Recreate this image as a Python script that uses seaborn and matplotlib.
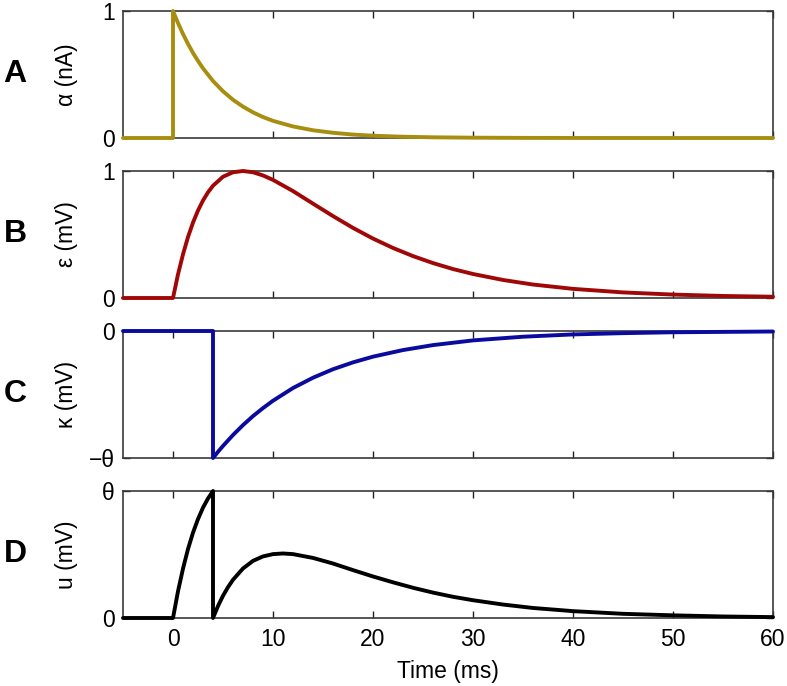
import matplotlib
matplotlib.use("Agg")
import matplotlib.pyplot as plt
import seaborn as sns

# Panel A: input current alpha (nA), step at t=0 then decay
t_alpha = [-5, 0, 0, 0.5, 1, 1.5, 2, 2.5, 3, 4, 5, 6, 7, 8, 9, 10, 12, 14, 16, 18,
           20, 23, 26, 30, 35, 40, 50, 60]
alpha = [0, 0, 1, 0.905, 0.819, 0.741, 0.670, 0.607, 0.549, 0.449, 0.368, 0.301,
         0.247, 0.202, 0.165, 0.135, 0.091, 0.061, 0.041, 0.027, 0.018, 0.010,
         0.0055, 0.0025, 0.0009, 0.0003, 0, 0]

# Panel B: PSP kernel epsilon (mV)
t_eps = [-5, 0, 0.5, 1, 1.5, 2, 2.5, 3, 3.5, 4, 5, 6, 7, 8, 9, 10, 12, 14, 16, 18,
         20, 22, 24, 26, 28, 30, 33, 36, 40, 45, 50, 55, 60]
eps = [0, 0, 0.186, 0.344, 0.480, 0.594, 0.689, 0.768, 0.832, 0.884, 0.955, 0.990,
       1.000, 0.990, 0.965, 0.930, 0.842, 0.743, 0.645, 0.552, 0.468, 0.394, 0.330,
       0.275, 0.228, 0.189, 0.142, 0.106, 0.072, 0.044, 0.027, 0.016, 0.010]

# Panel C: reset kernel kappa (in units of theta)
t_kappa = [-5, 4, 4, 4.5, 5, 6, 7, 8, 9, 10, 12, 14, 16, 18, 20, 23, 26, 30, 35, 40,
           45, 50, 60]
kappa = [0, 0, -1, -0.951, -0.905, -0.819, -0.741, -0.670, -0.607, -0.549, -0.449,
         -0.368, -0.301, -0.247, -0.202, -0.150, -0.111, -0.074, -0.045, -0.027,
         -0.017, -0.010, -0.004]

# Panel D: membrane potential u (in units of theta)
t_u = [-5, 0, 0.5, 1, 1.5, 2, 2.5, 3, 3.5, 4, 4, 4.5, 5, 5.5, 6, 7, 8, 9, 10, 11, 12,
       14, 16, 18, 20, 22, 24, 26, 28, 30, 33, 36, 40, 45, 50, 55, 60]
u = [0, 0, 0.210, 0.389, 0.543, 0.672, 0.779, 0.869, 0.941, 1.0, 0, 0.094, 0.175,
     0.243, 0.301, 0.390, 0.450, 0.485, 0.503, 0.508, 0.503, 0.473, 0.429, 0.377,
     0.327, 0.281, 0.238, 0.200, 0.167, 0.140, 0.106, 0.079, 0.054, 0.033, 0.021,
     0.012, 0.007]

x_ticks = [0, 10, 20, 30, 40, 50, 60]

panels = [
    ("A", t_alpha, alpha, "#A88E10", "α (nA)", (0, 1), ["0", "1"]),
    ("B", t_eps, eps, "#A00808", "ε (mV)", (0, 1), ["0", "1"]),
    ("C", t_kappa, kappa, "#0A0A9E", "κ (mV)", (-1, 0), ["−θ", "0"]),
    ("D", t_u, u, "#000000", "u (mV)", (0, 1), ["0", "θ"]),
]

sns.set_style("ticks")
plt.rcParams["font.family"] = ["Liberation Sans", "DejaVu Sans"]
plt.rcParams["font.size"] = 16.5
plt.rcParams["xtick.direction"] = "in"
plt.rcParams["ytick.direction"] = "in"
plt.rcParams["text.color"] = "black"
plt.rcParams["axes.labelcolor"] = "black"
plt.rcParams["xtick.labelcolor"] = "black"
plt.rcParams["ytick.labelcolor"] = "black"

fig = plt.figure(figsize=(7.87, 6.86), dpi=100)
W, H = 787, 686
left, right = 123, 773
tops = [11, 171, 331, 491]
height = 127

for i, (letter, tx, vy, color, ylabel, ylim, ylabels) in enumerate(panels):
    top = tops[i]
    ax = fig.add_axes([left / W, 1 - (top + height) / H, (right - left) / W, height / H])
    sns.lineplot(x=tx, y=vy, ax=ax, color=color, linewidth=2.8, sort=False,
                 estimator=None, zorder=3, clip_on=False)
    ax.set_xlim(-5, 60)
    ax.set_ylim(*ylim)
    ax.set_xticks(x_ticks)
    ax.set_yticks(list(ylim))
    ax.set_yticklabels(ylabels)
    ax.tick_params(axis="x", top=True, bottom=True, length=5, width=1, color="#222222",
                   pad=7)
    ax.tick_params(axis="y", left=True, right=True, length=5, width=1, color="#222222",
                   pad=6)
    if letter != "D":
        ax.set_xticklabels([])
    else:
        ax.set_xlabel("Time (ms)", labelpad=7)
    for sp in ax.spines.values():
        sp.set_visible(True)
        sp.set_color("#3a3a3a")
        sp.set_linewidth(1.2)
    ax.set_ylabel(ylabel)
    ax.yaxis.set_label_coords(-(left - 78) / (right - left), 0.5)
    fig.text(15 / W, 1 - (top + height / 2) / H, letter, fontsize=23, fontweight="bold",
             ha="center", va="center")

fig.savefig("out.png", dpi=100)
